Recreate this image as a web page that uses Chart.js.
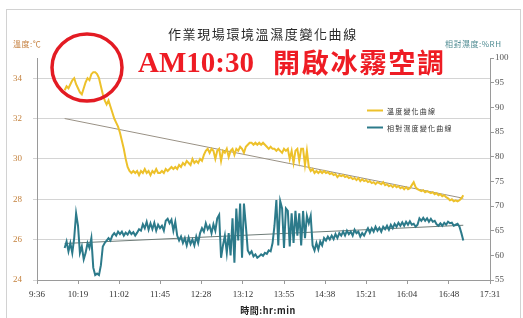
<!DOCTYPE html>
<html>
<head>
<meta charset="utf-8">
<script src="https://cdn.jsdelivr.net/npm/chart.js@4.4.1/dist/chart.umd.min.js"></script>
<style>
  html, body { margin: 0; padding: 0; background: #fff; }
  #wrap { width: 523px; height: 318px; }
</style>
</head>
<body>
<div id="wrap"><canvas id="chart" width="523" height="318"></canvas></div>
<script>
// ---- data ----
const xTickLabels = ["9:36", "10:19", "11:02", "11:45", "12:28", "13:12", "13:55", "14:38", "15:21", "16:04", "16:48", "17:31"];
const tempTicks = [24, 26, 28, 30, 32, 34];
const humTicks = [55, 60, 65, 70, 75, 80, 85, 90, 95, 100];

const times = [
    "10:05", "10:07", "10:09", "10:11", "10:13", "10:15", "10:17", "10:19", "10:21", "10:23",
    "10:25", "10:27", "10:29", "10:31", "10:33", "10:35", "10:37", "10:39", "10:41", "10:43",
    "10:45", "10:47", "10:49", "10:51", "10:53", "10:55", "10:57", "10:59", "11:01", "11:03",
    "11:05", "11:07", "11:09", "11:11", "11:13", "11:15", "11:17", "11:19", "11:21", "11:23",
    "11:25", "11:27", "11:29", "11:31", "11:33", "11:35", "11:37", "11:39", "11:41", "11:43",
    "11:45", "11:47", "11:49", "11:51", "11:53", "11:55", "11:57", "11:59", "12:01", "12:03",
    "12:05", "12:07", "12:09", "12:11", "12:13", "12:15", "12:17", "12:19", "12:21", "12:23",
    "12:25", "12:27", "12:29", "12:31", "12:33", "12:35", "12:37", "12:39", "12:41", "12:43",
    "12:45", "12:47", "12:49", "12:51", "12:53", "12:55", "12:57", "12:59", "13:01", "13:03",
    "13:05", "13:07", "13:09", "13:11", "13:13", "13:15", "13:17", "13:19", "13:21", "13:23",
    "13:25", "13:27", "13:29", "13:31", "13:33", "13:35", "13:37", "13:39", "13:41", "13:43",
    "13:45", "13:47", "13:49", "13:51", "13:53", "13:55", "13:57", "13:59", "14:01", "14:03",
    "14:05", "14:07", "14:09", "14:11", "14:13", "14:15", "14:17", "14:19", "14:21", "14:23",
    "14:25", "14:27", "14:29", "14:31", "14:33", "14:35", "14:37", "14:39", "14:41", "14:43",
    "14:45", "14:47", "14:49", "14:51", "14:53", "14:55", "14:57", "14:59", "15:01", "15:03",
    "15:05", "15:07", "15:09", "15:11", "15:13", "15:15", "15:17", "15:19", "15:21", "15:23",
    "15:25", "15:27", "15:29", "15:31", "15:33", "15:35", "15:37", "15:39", "15:41", "15:43",
    "15:45", "15:47", "15:49", "15:51", "15:53", "15:55", "15:57", "15:59", "16:01", "16:03",
    "16:05", "16:07", "16:09", "16:11", "16:13", "16:15", "16:17", "16:19", "16:21", "16:23",
    "16:25", "16:27", "16:29", "16:31", "16:33", "16:35", "16:37", "16:39", "16:41", "16:43",
    "16:45", "16:47", "16:49", "16:51", "16:53", "16:55", "16:57", "16:59", "17:01", "17:03"
];

// 溫度 (℃)
const tempValues = [
    33.4, 33.6, 33.5, 33.7, 33.9, 34.0, 33.7, 33.5, 33.3, 33.2,
    33.5, 33.8, 34.0, 33.9, 34.2, 34.3, 34.3, 34.2, 34.0, 33.6,
    33.2, 32.9, 32.7, 32.9, 32.6, 32.3, 32.0, 31.8, 31.6, 31.3,
    30.9, 30.5, 30.0, 29.6, 29.4, 29.3, 29.4, 29.3, 29.4, 29.2,
    29.4, 29.3, 29.5, 29.3, 29.4, 29.2, 29.4, 29.3, 29.5, 29.3,
    29.3, 29.4, 29.3, 29.5, 29.4, 29.5, 29.6, 29.5, 29.6, 29.5,
    29.7, 29.6, 29.8, 29.7, 29.9, 29.8, 29.7, 30.0, 29.8, 29.9,
    29.8, 30.0, 29.9, 30.2, 30.4, 30.5, 30.3, 30.5, 30.4, 30.0,
    30.4, 30.5, 29.9, 30.4, 30.3, 30.5, 30.1, 30.4, 30.5, 30.2,
    30.5, 30.4, 30.6, 30.5, 30.3, 30.6, 30.7, 30.8, 30.8, 30.7,
    30.8, 30.7, 30.8, 30.7, 30.8, 30.7, 30.6, 30.5, 30.6, 30.5,
    30.5, 30.4, 30.5, 30.4, 30.3, 30.5, 30.4, 30.5, 30.0, 30.4,
    29.8, 30.4, 30.5, 29.9, 30.5, 30.5, 29.7, 30.4, 29.6, 29.4,
    29.5, 29.3, 29.4, 29.3, 29.4, 29.3, 29.4, 29.3, 29.35, 29.25,
    29.3, 29.2, 29.25, 29.1, 29.2, 29.15, 29.2, 29.1, 29.15, 29.05,
    29.1, 29.0, 29.05, 28.95, 29.05, 28.9, 29.0, 28.9, 28.95, 28.85,
    28.9, 28.8, 28.85, 28.75, 28.85, 28.8, 28.75, 28.85, 28.7, 28.75,
    28.65, 28.7, 28.6, 28.7, 28.6, 28.65, 28.55, 28.6, 28.5, 28.6,
    28.5, 28.55, 28.7, 28.85, 28.6, 28.5, 28.45, 28.4, 28.45, 28.35,
    28.4, 28.35, 28.3, 28.35, 28.25, 28.3, 28.2, 28.25, 28.15, 28.2,
    28.1, 28.05, 27.95, 28.0, 27.9, 27.95, 27.9, 27.95, 28.05, 28.2
];

// 相對濕度 (%RH)
const humValues = [
    61.5, 62.8, 60.8, 62.5, 60.5, 63.5, 68.5, 66.0, 60.5, 61.8,
    59.2, 60.5, 62.5, 61.5, 63.5, 57.5, 56.0, 56.3, 56.0, 58.0,
    61.8, 62.5, 63.0, 63.5, 63.0, 64.0, 64.5, 64.0, 64.8, 64.3,
    64.8, 64.0, 64.6, 64.2, 64.9, 64.3, 64.7, 64.0, 64.6, 65.3,
    65.0, 66.3, 65.5, 66.8, 65.2, 66.5, 65.3, 66.6, 65.0, 66.2,
    65.5, 66.0, 65.0, 67.0, 67.4, 66.5, 67.2, 65.0, 66.8, 64.0,
    63.0, 63.8, 62.5, 63.5, 62.0, 63.6, 62.3, 63.2, 62.0, 63.8,
    62.5, 64.5, 65.5, 64.8, 66.5, 65.3, 66.0, 64.5, 66.3, 65.0,
    67.5, 68.2, 59.5, 62.0, 64.0, 60.5, 64.5, 60.0, 67.5, 58.5,
    69.5, 63.0, 70.5, 59.5, 70.5, 66.0, 61.0, 60.3, 60.8, 59.8,
    60.2, 59.5, 59.8, 60.2, 59.9, 60.5, 60.3, 61.0, 60.8, 62.5,
    66.0, 71.2, 62.0, 71.0, 69.5, 61.5, 69.5, 69.0, 61.8, 68.5,
    62.5, 69.0, 64.0, 68.5, 62.0, 69.0, 63.5, 68.0, 66.5, 68.0,
    62.0, 61.0, 62.5, 61.2, 62.8, 62.0, 63.5, 63.0, 63.8, 63.2,
    64.0, 63.3, 64.3, 63.5, 64.5, 64.0, 64.8, 64.0, 65.0, 64.3,
    64.8, 64.0, 65.2, 64.5, 64.8, 63.8, 64.5, 64.0, 64.8, 65.5,
    64.6, 65.5, 64.8, 65.8, 65.0, 65.6, 64.8, 65.8, 65.3, 66.0,
    65.2, 66.2, 65.5, 66.4, 65.8, 66.6, 66.0, 66.7, 66.0, 66.8,
    66.2, 66.9, 66.2, 66.4, 65.8, 66.2, 67.5, 67.0, 67.6, 67.0,
    67.5, 66.8, 67.4, 66.8, 67.0, 66.3, 66.0, 66.5, 66.0, 66.6,
    66.2, 66.8, 66.5, 66.6, 66.0, 66.2, 66.4, 65.8, 64.5, 63.0
];

// trend lines (start / end)
const trendTimes = ["10:05", "17:03"];
const tempTrend = [32.0, 28.05];
const humTrend = [62.4, 66.1];

// ---- helpers ----
const toMinutes = s => {
    const [h, m] = s.split(":").map(Number);
    return h * 60 + m;
};
const points = (ts, vs) => ts.map((t, i) => ({ x: toMinutes(t), y: vs[i] }));

const TEMP_COLOR = "#EDC12B";
const HUM_COLOR = "#2C7A8A";
const SERIF = "'Liberation Serif', 'Times New Roman', serif";
const CJK = "'Noto Sans CJK TC', 'Noto Sans CJK SC', sans-serif";

// titles, legend and the red note are drawn on top of the chart
const decor = {
    id: "decor",
    afterDraw(chart) {
        const c = chart.ctx;
        c.save();

        // outer frame
        c.strokeStyle = "#d2d2d2";
        c.lineWidth = 1;
        c.strokeRect(6.5, 9.5, 514, 320);

        // title
        c.fillStyle = "#2a2a2a";
        c.font = "13px " + CJK;
        c.letterSpacing = "1.6px";
        c.textAlign = "left";
        c.textBaseline = "middle";
        c.fillText("作業現場環境溫濕度變化曲線", 168, 34);

        // axis titles
        c.letterSpacing = "0.5px";
        c.font = "8px " + CJK;
        c.fillStyle = "#C47E3C";
        c.fillText("溫度:℃", 13, 44);
        c.fillStyle = "#4E8B92";
        c.fillText("相對濕度:%RH", 445, 44);

        c.fillStyle = "#222";
        c.font = "bold 9px " + CJK;
        c.textAlign = "center";
        c.fillText("時間:hr:min", 268, 311);

        // legend
        c.letterSpacing = "1.2px";
        c.font = "7px " + CJK;
        c.textAlign = "left";
        c.fillStyle = "#333";
        c.lineWidth = 2;
        c.strokeStyle = TEMP_COLOR;
        c.beginPath(); c.moveTo(367, 110.5); c.lineTo(383, 110.5); c.stroke();
        c.fillText("溫度變化曲線", 387, 111);
        c.strokeStyle = HUM_COLOR;
        c.beginPath(); c.moveTo(367, 127.5); c.lineTo(383, 127.5); c.stroke();
        c.fillText("相對濕度變化曲線", 387, 128);

        // red note
        c.letterSpacing = "0px";
        c.strokeStyle = "#E31B23";
        c.lineWidth = 3.5;
        c.beginPath();
        c.ellipse(87, 67.5, 35, 33.5, 0, 0, Math.PI * 2);
        c.stroke();

        c.fillStyle = "#EE1C24";
        c.font = "bold 29px " + SERIF;
        c.textBaseline = "alphabetic";
        c.fillText("AM10:30", 138, 72);
        c.font = "bold 27px " + CJK;
        c.letterSpacing = "1.8px";
        c.textBaseline = "middle";
        c.fillText("開啟冰霧空調", 273, 63);

        c.restore();
    }
};

new Chart(document.getElementById("chart"), {
    type: "line",
    data: {
        datasets: [
            {
                label: "溫度變化曲線",
                data: points(times, tempValues),
                yAxisID: "yT",
                borderColor: TEMP_COLOR,
                borderWidth: 2,
                pointRadius: 0,
                tension: 0
            },
            {
                label: "相對濕度變化曲線",
                data: points(times, humValues),
                yAxisID: "yH",
                borderColor: HUM_COLOR,
                borderWidth: 2,
                pointRadius: 0,
                tension: 0
            },
            {
                label: "temp trend",
                data: points(trendTimes, tempTrend),
                yAxisID: "yT",
                borderColor: "#9a9286",
                borderWidth: 1,
                pointRadius: 0
            },
            {
                label: "hum trend",
                data: points(trendTimes, humTrend),
                yAxisID: "yH",
                borderColor: "#6f7c78",
                borderWidth: 1,
                pointRadius: 0
            }
        ]
    },
    options: {
        responsive: false,
        animation: false,
        layout: { padding: { left: 0, right: 0, top: 58, bottom: 0 } },
        plugins: {
            legend: { display: false },
            tooltip: { enabled: false }
        },
        scales: {
            x: {
                type: "linear",
                min: toMinutes(xTickLabels[0]),
                max: toMinutes(xTickLabels[xTickLabels.length - 1]),
                afterBuildTicks: s => { s.ticks = xTickLabels.map(t => ({ value: toMinutes(t) })); },
                afterFit: s => { s.height = 38; },
                ticks: {
                    autoSkip: false,
                    maxRotation: 0,
                    padding: 5,
                    color: "#333",
                    font: { family: SERIF, size: 9 },
                    callback: (v, i) => xTickLabels[i]
                },
                grid: { drawOnChartArea: false, drawTicks: true, tickLength: 4, color: "#9a9a9a" },
                border: { color: "#9a9a9a" }
            },
            yT: {
                position: "left",
                min: 24,
                max: 35,
                afterBuildTicks: s => { s.ticks = tempTicks.map(v => ({ value: v })); },
                afterFit: s => { s.width = 37; },
                ticks: {
                    padding: 11,
                    color: "#C4823E",
                    font: { family: SERIF, size: 9 }
                },
                grid: { color: "#d4d4d4", tickLength: 4 },
                border: { color: "#9a9a9a" }
            },
            yH: {
                position: "right",
                min: 55,
                max: 100,
                afterBuildTicks: s => { s.ticks = humTicks.map(v => ({ value: v })); },
                afterFit: s => { s.width = 33; },
                ticks: {
                    padding: 1,
                    color: "#555",
                    font: { family: SERIF, size: 9 }
                },
                grid: { drawOnChartArea: false, tickLength: 4, color: "#9a9a9a" },
                border: { color: "#9a9a9a" }
            }
        }
    },
    plugins: [decor]
});
</script>
</body>
</html>
